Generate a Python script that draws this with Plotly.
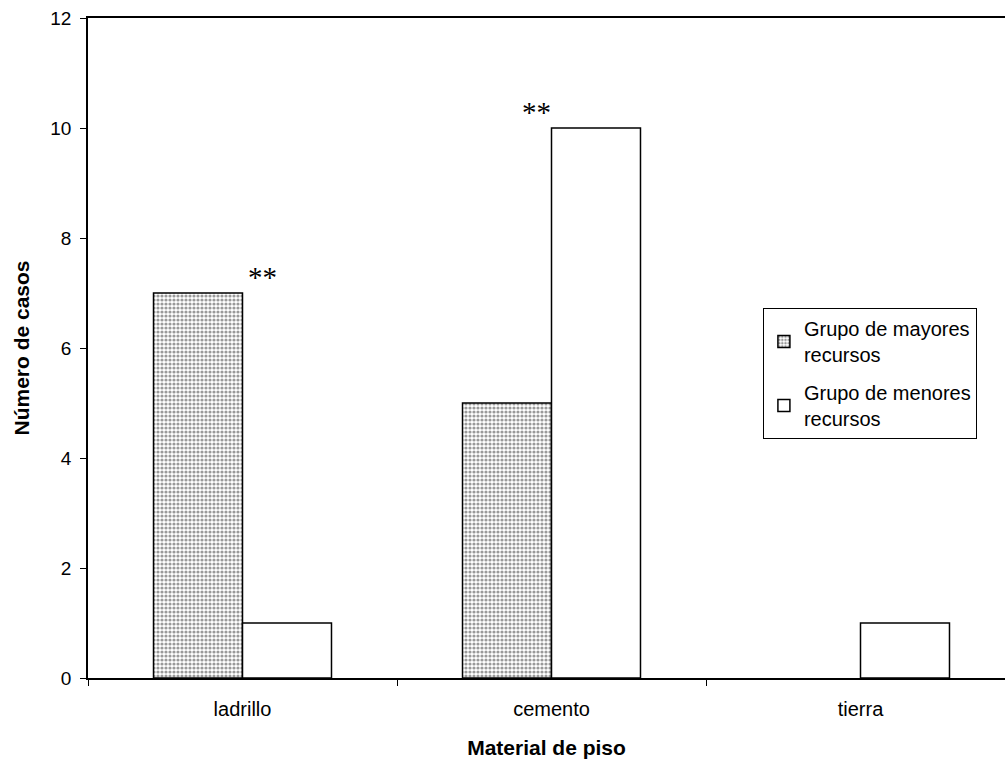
import plotly.graph_objects as go

categories = ["ladrillo", "cemento", "tierra"]
mayores = [7, 5, 0]
menores = [1, 10, 1]
legend_names = ["Grupo de mayores<br>recursos", "Grupo de menores<br>recursos"]
marks = [("ladrillo", 7, 20), ("cemento", 10, -15)]

fig = go.Figure()
fig.add_trace(go.Bar(
    x=categories, y=mayores, name=legend_names[0], legendgroup="a",
    marker=dict(color="white",
                line=dict(color="black", width=[1.5 if v else 0 for v in mayores]),
                pattern=dict(shape=".", fgcolor="#333333", bgcolor="white", size=4, solidity=0.5)),
))
fig.add_trace(go.Bar(
    x=categories, y=menores, name=legend_names[1], legendgroup="b",
    marker=dict(color="white",
                line=dict(color="black", width=[1.5 if v else 0 for v in menores])),
))

for cat, yv, xs in marks:
    fig.add_annotation(x=cat, y=yv, xref="x", yref="y", text="**", showarrow=False,
                       xshift=xs, yshift=-2, yanchor="bottom",
                       font=dict(family="Liberation Serif", size=29, color="black"))

px_per_cat = 309
plot_w = 1005 - 88
fig.update_layout(
    width=1005, height=764,
    margin=dict(l=88, r=0, t=18, b=86),
    paper_bgcolor="white", plot_bgcolor="white",
    barmode="group", bargap=0.424, bargroupgap=0,
    font=dict(family="Liberation Sans, Arial", size=20, color="black"),
    legend=dict(x=0.736, y=0.5606, xanchor="left", yanchor="top",
                bordercolor="black", borderwidth=1, bgcolor="white",
                font=dict(size=20), tracegroupgap=9, itemwidth=30),
    showlegend=True,
)
fig.update_xaxes(
    range=[-0.5, -0.5 + plot_w / px_per_cat],
    showline=True, linecolor="black", linewidth=1.5, mirror=True,
    ticks="outside", tickson="boundaries", ticklen=6, tickcolor="black",
    ticklabelstandoff=12,
    showgrid=False, tickfont=dict(size=20),
    title=dict(text="<b>Material de piso</b>", font=dict(size=21), standoff=22),
)
fig.update_yaxes(
    range=[0, 12], dtick=2,
    showline=True, linecolor="black", linewidth=1.5, mirror=False,
    ticks="outside", ticklen=6, tickcolor="black",
    ticklabelstandoff=5,
    showgrid=False, zeroline=False, tickfont=dict(size=19),
    title=dict(text="<b>Número de casos</b>", font=dict(size=21), standoff=15),
)
fig.write_html("out.html")
